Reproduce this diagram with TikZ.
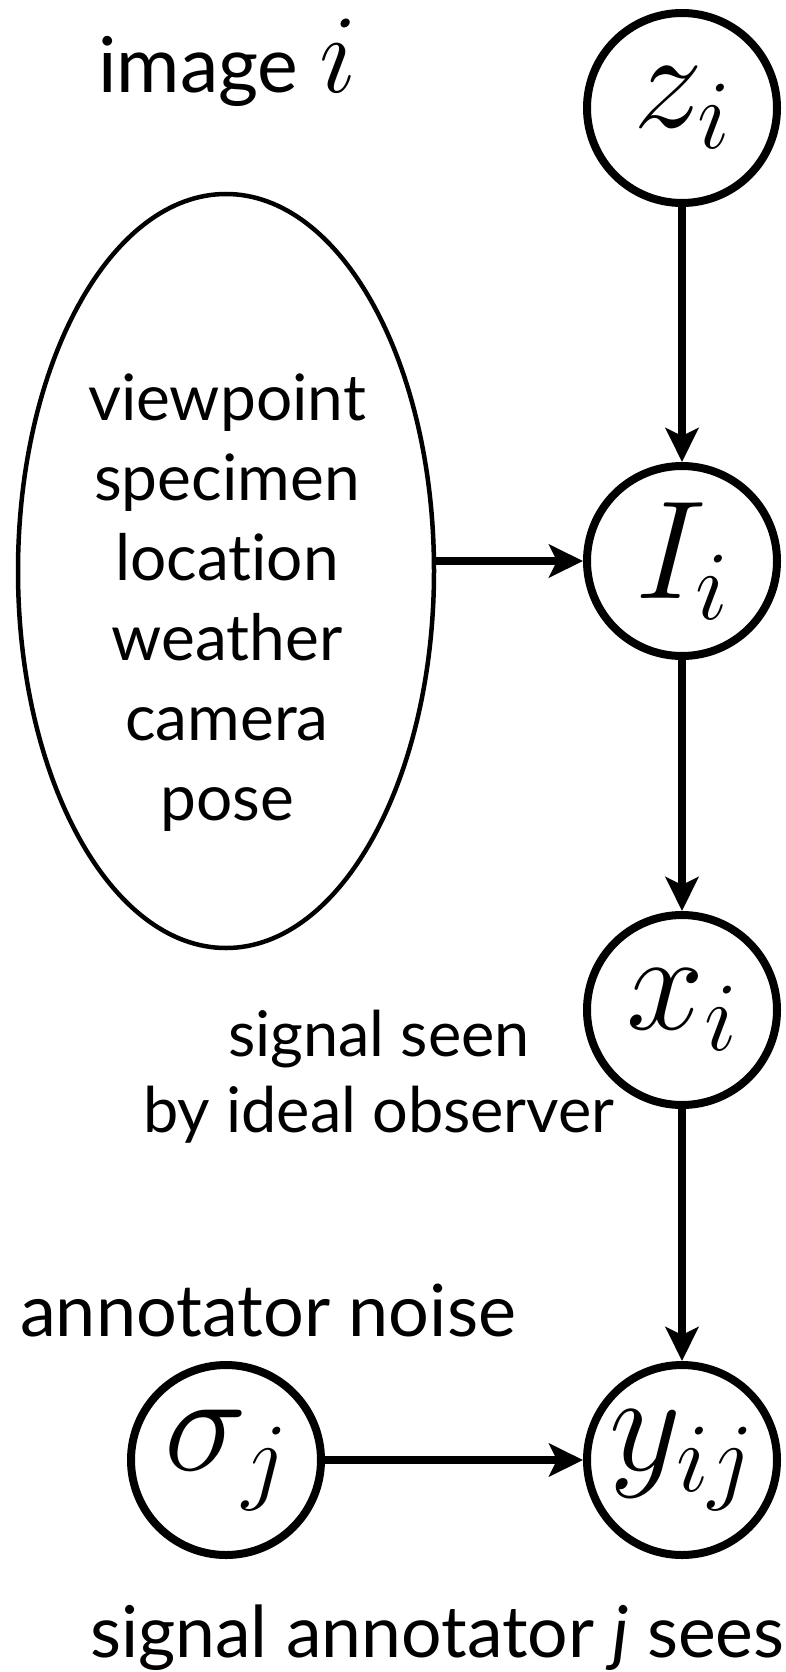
\RequirePackage{fix-cm}
\documentclass[tikz,border=0pt]{standalone}
\usepackage{fontspec}
\setmainfont{Lato}[Ligatures=NoCommon]
\usetikzlibrary{shapes.geometric,arrows.meta}
\begin{document}
\begin{tikzpicture}[x=1pt,y=-1pt,
  var/.style={circle,draw,line width=8pt,minimum size=190pt,inner sep=0pt},
  mathlbl/.style={inner sep=0pt,font=\fontsize{140pt}{140pt}\selectfont},
  factors/.style={ellipse,draw,line width=4.5pt,minimum width=416pt,minimum height=754pt,inner sep=0pt},
  edge/.style={line width=8pt,-{Stealth[length=34pt,width=33pt,inset=8pt]}},
  lbl/.style={inner sep=0pt,font=\fontsize{72pt}{76pt}\selectfont},
  inlbl/.style={inner sep=0pt,align=center,font=\fontsize{64pt}{80pt}\selectfont}]
\useasboundingbox (0,0) rectangle (785,1672);
% variables
\node[var,label={[mathlbl]center:$z_i$}] (z) at (682,108) {};
\node[var,label={[mathlbl]center:$I_i$}] (I) at (682,561) {};
\node[var,label={[mathlbl]center:$x_i$}] (x) at (682,1010) {};
\node[var,label={[mathlbl]center:$y_{ij}$}] (y) at (682,1460) {};
\node[var,label={[mathlbl]center:$\sigma_j$}] (s) at (226,1460) {};
% nuisance factors
\node[factors] (ell) at (226,571) {};
\node[inlbl,anchor=base] (factortext) at (227,820) {viewpoint\\specimen\\location\\weather\\camera\\pose};
% labels
\node[lbl,anchor=base west,font=\fontsize{77pt}{80pt}\selectfont] (imglbl) at (98,93) {image\hspace{0.27em}{\fontsize{112pt}{112pt}\selectfont$i$}};
\node[lbl,anchor=base,align=center,font=\fontsize{63pt}{76pt}\selectfont] (sigseen) at (379,1132) {signal seen\\by ideal observer};
\node[lbl,anchor=base west] (noiselbl) at (20,1336) {annotator noise};
\node[lbl,anchor=base west,font=\fontsize{71.5pt}{76pt}\selectfont] (seeslbl) at (90,1657) {signal annotator \textit{j} sees};
% edges
\draw[edge] (z) -- (I);
\draw[edge] (I) -- (x);
\draw[edge] (x) -- (y);
\draw[edge] (s) -- (y);
\draw[edge] (ell.east |- I.west) -- (I.west);
\end{tikzpicture}
\end{document}
